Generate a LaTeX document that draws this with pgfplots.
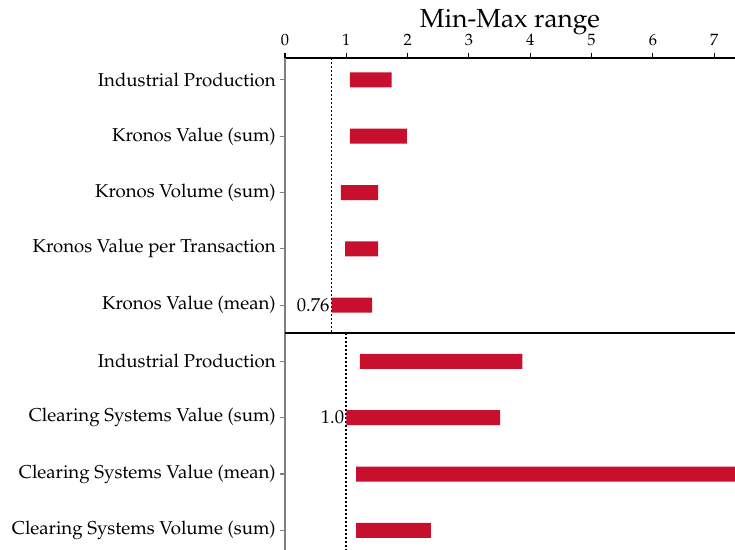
\documentclass[border=0pt]{standalone}
\usepackage[T1]{fontenc}
\usepackage{mathpazo}
\usepackage{pgfplots}
\usepackage{pgfplotstable}
\pgfplotsset{compat=1.18}
\definecolor{barred}{RGB}{200,16,46}

% one row per category, top to bottom: lower and upper end of the range
\pgfplotstableread{
row lo hi
0 1.06 1.74
1 1.06 1.99
2 0.91 1.52
3 0.98 1.52
4 0.76 1.42
5 1.22 3.87
6 1.00 3.51
7 1.16 7.34
8 1.16 2.38
}\ranges

\begin{document}
\fontsize{10.25}{12}\selectfont
\begin{tikzpicture}
\begin{axis}[
    scale only axis,
    width=247.5pt, height=270.6pt,
    xmin=0, xmax=7.34,
    ymin=-0.39, ymax=8.35,
    y dir=reverse,
    axis x line*=top,
    axis y line*=left,
    x axis line style={black, line width=1pt, -},
    y axis line style={gray, line width=1pt, -},
    tick align=outside,
    xtick={0,...,7},
    ytick={0,...,8},
    x tick style={black, line width=0.6pt},
    y tick style={gray, line width=0.6pt},
    major tick length=3pt,
    x tick label style={font=\small},
    y tick label style={xshift=1.5pt},
    yticklabels={Industrial Production, Kronos Value (sum), Kronos Volume (sum),
        Kronos Value per Transaction, Kronos Value (mean), Industrial Production,
        Clearing Systems Value (sum), Clearing Systems Value (mean),
        Clearing Systems Volume (sum)},
    title={Min-Max range},
    title style={font=\Large, at={(0.5,1)}, anchor=base, yshift=11pt},
    xbar stacked,
    bar width=8.25pt,
]
\addplot[draw=none, fill=none] table[x=lo, y=row] {\ranges};
\addplot[draw=none, fill=barred] table[x expr=\thisrow{hi}-\thisrow{lo}, y=row] {\ranges};

\draw[black, line width=1.1pt] (axis cs:0,4.5) -- (axis cs:7.34,4.5);
\draw[black, line width=1pt, dash pattern=on 1pt off 1.2pt] (axis cs:0.76,-0.39) -- (axis cs:0.76,4.5);
\draw[black, line width=1pt, dash pattern=on 1pt off 1.2pt] (axis cs:1.0,4.5) -- (axis cs:1.0,8.35);
\node[anchor=east, inner sep=1pt] at (axis cs:0.76,4) {0.76};
\node[anchor=east, inner sep=1pt] at (axis cs:1.0,6) {1.0};
\end{axis}
\pgfresetboundingbox
\path ([xshift=-156.75pt]current axis.south west) rectangle ([yshift=31.9pt]current axis.north east);
\end{tikzpicture}
\end{document}
